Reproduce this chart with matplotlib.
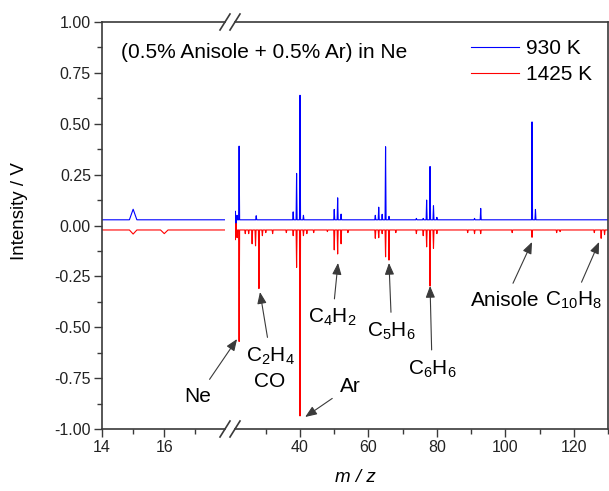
import matplotlib
matplotlib.use('Agg')
import matplotlib.pyplot as plt
from matplotlib.lines import Line2D
from matplotlib.ticker import MultipleLocator, FormatStrFormatter

plt.rcParams['font.family'] = ['Liberation Sans', 'DejaVu Sans']
plt.rcParams['mathtext.fontset'] = 'custom'
plt.rcParams['mathtext.rm'] = 'Liberation Sans'
plt.rcParams['mathtext.it'] = 'Liberation Sans:italic'
plt.rcParams['mathtext.default'] = 'regular'
plt.rcParams['axes.unicode_minus'] = False

# broken m/z axis: low segment and high segment
LOW_RANGE = (14, 17.95)
HIGH_RANGE = (21, 130)

# 930 K trace (baseline + peak list, V)
base_930 = 0.028
low_mz_930 = [15.0]
low_int_930 = [0.08]
high_mz_930 = [21.1, 21.3, 21.6, 22.2, 27.2, 38, 39, 40, 41, 50, 51, 52,
               62, 63, 64, 65, 66, 74, 76, 77, 78, 79, 80, 91, 92.8,
               107.8, 108.8]
high_int_930 = [0.07, -0.01, 0.05, 0.39, 0.048, 0.067, 0.256, 0.64, 0.05,
                0.079, 0.136, 0.056, 0.05, 0.09, 0.055, 0.387, 0.045,
                0.035, 0.035, 0.125, 0.29, 0.097, 0.04, 0.035, 0.084,
                0.509, 0.079]

# 1425 K trace
base_1425 = -0.022
low_mz_1425 = [15.0, 16.0]
low_int_1425 = [-0.042, -0.040]
high_mz_1425 = [21.1, 21.3, 21.6, 22.2, 24, 25, 26, 27, 28, 29, 30, 32, 36,
                38, 39, 40, 41, 42, 44, 48, 50, 51, 52, 54, 62, 63, 64, 65,
                66, 68, 74, 76, 77, 78, 79, 80, 89, 91, 92.8, 102, 107.8,
                115, 116, 126, 128, 129]
high_int_1425 = [-0.07, 0.01, -0.06, -0.57, -0.04, -0.04, -0.09, -0.10,
                 -0.31, -0.05, -0.035, -0.04, -0.035, -0.05, -0.206, -0.936,
                 -0.05, -0.04, -0.035, -0.03, -0.12, -0.14, -0.09, -0.035,
                 -0.063, -0.06, -0.04, -0.154, -0.17, -0.035, -0.04, -0.05,
                 -0.105, -0.298, -0.112, -0.04, -0.035, -0.04, -0.04, -0.035,
                 -0.058, -0.035, -0.03, -0.035, -0.063, -0.045]

# peak labels: (text, text x, text baseline y, arrow tip x, arrow tip y)
labels = ['C$_2$H$_4$', 'C$_4$H$_2$', 'C$_5$H$_6$', 'C$_6$H$_6$',
          'Anisole', 'C$_{10}$H$_8$', 'Ar', 'Ne']
label_x = [31.4, 49.5, 66.8, 78.6, 99.9, 119.9, 54.6, 10.2]
label_y = [-0.669, -0.48, -0.546, -0.731, -0.396, -0.396, -0.817, -0.866]
tip_x = [28.3, 51.1, 66.0, 78.0, 107.8, 127.4, 41.5, 21.6]
tip_y = [-0.327, -0.184, -0.184, -0.297, -0.081, -0.081, -0.941, -0.558]

W, H = 609, 491
SPINE = '#3a3a3a'
FS = 15


def stick_trace(xlim, base, mz, height, hw):
    xs, ys = [xlim[0]], [base]
    for c, h in sorted(zip(mz, height)):
        xs += [c - hw, c, c + hw]
        ys += [base, h, base]
    xs.append(xlim[1])
    ys.append(base)
    return xs, ys


def frac(x, y):
    return x / W, 1 - y / H


fig = plt.figure(figsize=(W / 100, H / 100), dpi=100)
ax1 = fig.add_axes([102 / W, 1 - 429 / H, (225 - 102) / W, (429 - 22) / H])
ax2 = fig.add_axes([235 / W, 1 - 429 / H, (608 - 235) / W, (429 - 22) / H],
                   sharey=ax1)

ax1.plot(*stick_trace(LOW_RANGE, base_930, low_mz_930, low_int_930, 0.12),
         color='blue', lw=0.8)
ax1.plot(*stick_trace(LOW_RANGE, base_1425, low_mz_1425, low_int_1425, 0.12),
         color='red', lw=0.8)
l930, = ax2.plot(*stick_trace(HIGH_RANGE, base_930, high_mz_930, high_int_930, 0.15),
                 color='blue', lw=0.8)
l1425, = ax2.plot(*stick_trace(HIGH_RANGE, base_1425, high_mz_1425, high_int_1425, 0.15),
                  color='red', lw=0.8)

ax1.set_xlim(*LOW_RANGE)
ax2.set_xlim(*HIGH_RANGE)
ax1.set_ylim(-1, 1)

ax1.xaxis.set_major_locator(MultipleLocator(2))
ax1.xaxis.set_minor_locator(MultipleLocator(1))
ax2.xaxis.set_major_locator(MultipleLocator(20))
ax2.xaxis.set_minor_locator(MultipleLocator(10))
ax1.yaxis.set_major_locator(MultipleLocator(0.25))
ax1.yaxis.set_minor_locator(MultipleLocator(0.125))
ax1.yaxis.set_major_formatter(FormatStrFormatter('%.2f'))

for ax in (ax1, ax2):
    for s in ax.spines.values():
        s.set_color(SPINE)
        s.set_linewidth(1.2)
    ax.tick_params(which='major', direction='out', length=5.5, width=1.0,
                   color=SPINE, labelsize=11.5, pad=2.5, labelcolor='#222222')
    ax.tick_params(which='minor', direction='out', length=3.5, width=1.0,
                   color=SPINE)
ax1.spines['right'].set_visible(False)
ax2.spines['left'].set_visible(False)
ax2.tick_params(axis='y', which='both', left=False, labelleft=False)

# break marks on top and bottom spines
for bx in (225, 235):
    for by in (22, 429):
        x0, y0 = frac(bx - 5, by + 8)
        x1, y1 = frac(bx + 5, by - 8)
        fig.add_artist(Line2D([x0, x1], [y0, y1], transform=fig.transFigure,
                              color=SPINE, lw=1.2))

arrow = dict(arrowstyle='-|>,head_length=0.7,head_width=0.28',
             mutation_scale=10, color='#3a3a3a', lw=0.8, shrinkA=4, shrinkB=0)
for txt, tx, ty, px, py in zip(labels, label_x, label_y, tip_x, tip_y):
    ax2.annotate(txt, xy=(px, py), xytext=(tx, ty), ha='center', va='baseline',
                 fontsize=FS, arrowprops=arrow, annotation_clip=False)
ax2.text(31.1, -0.792, 'CO', ha='center', va='baseline', fontsize=FS)

fig.text(*frac(121, 58), '(0.5% Anisole + 0.5% Ar) in Ne', fontsize=FS,
         va='baseline')
fig.text(*frac(20, 211), 'Intensity / V', rotation=90, fontsize=13.5,
         ha='center', va='center')
fig.text(*frac(355, 478), 'm / z', style='italic', fontsize=13.5,
         ha='center', va='center')

ax2.legend([l930, l1425], ['930 K', '1425 K'], loc='upper left',
           bbox_to_anchor=frac(471, 39), bbox_transform=fig.transFigure,
           frameon=False, fontsize=FS, handlelength=2.29, handletextpad=0.33,
           borderpad=0, borderaxespad=0, labelspacing=0.35)

fig.savefig('out.png', dpi=100)
